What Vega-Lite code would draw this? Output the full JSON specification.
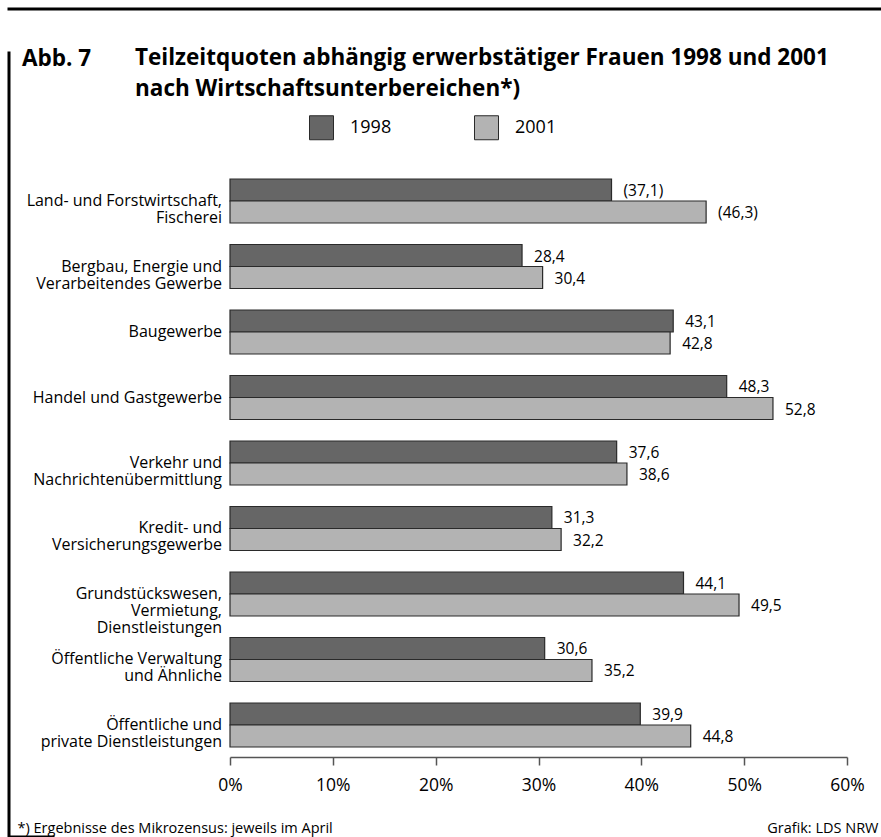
{
  "$schema": "https://vega.github.io/schema/vega-lite/v6.json",
  "width": 872,
  "height": 828,
  "autosize": {"type": "none"},
  "padding": {"left": 9, "top": 9, "right": 0, "bottom": 0},
  "background": "white",
  "title": {
    "text": ["Teilzeitquoten abhängig erwerbstätiger Frauen 1998 und 2001", "nach Wirtschaftsunterbereichen*)"],
    "anchor": "start",
    "frame": "group",
    "dx": 126,
    "offset": -91,
    "baseline": "top",
    "lineHeight": 30.5,
    "font": "Open Sans",
    "fontSize": 22.5,
    "fontWeight": "bold",
    "color": "#000"
  },
  "data": {
    "values": [
      {"sector": "Land- und Forstwirtschaft,|Fischerei", "year": "1998", "value": 37.1, "label": "(37,1)"},
      {"sector": "Land- und Forstwirtschaft,|Fischerei", "year": "2001", "value": 46.3, "label": "(46,3)"},
      {"sector": "Bergbau, Energie und|Verarbeitendes Gewerbe", "year": "1998", "value": 28.4, "label": "28,4"},
      {"sector": "Bergbau, Energie und|Verarbeitendes Gewerbe", "year": "2001", "value": 30.4, "label": "30,4"},
      {"sector": "Baugewerbe", "year": "1998", "value": 43.1, "label": "43,1"},
      {"sector": "Baugewerbe", "year": "2001", "value": 42.8, "label": "42,8"},
      {"sector": "Handel und Gastgewerbe", "year": "1998", "value": 48.3, "label": "48,3"},
      {"sector": "Handel und Gastgewerbe", "year": "2001", "value": 52.8, "label": "52,8"},
      {"sector": "Verkehr und|Nachrichtenübermittlung", "year": "1998", "value": 37.6, "label": "37,6"},
      {"sector": "Verkehr und|Nachrichtenübermittlung", "year": "2001", "value": 38.6, "label": "38,6"},
      {"sector": "Kredit- und|Versicherungsgewerbe", "year": "1998", "value": 31.3, "label": "31,3"},
      {"sector": "Kredit- und|Versicherungsgewerbe", "year": "2001", "value": 32.2, "label": "32,2"},
      {"sector": "Grundstückswesen,|Vermietung,|Dienstleistungen", "year": "1998", "value": 44.1, "label": "44,1"},
      {"sector": "Grundstückswesen,|Vermietung,|Dienstleistungen", "year": "2001", "value": 49.5, "label": "49,5"},
      {"sector": "Öffentliche Verwaltung|und Ähnliche", "year": "1998", "value": 30.6, "label": "30,6"},
      {"sector": "Öffentliche Verwaltung|und Ähnliche", "year": "2001", "value": 35.2, "label": "35,2"},
      {"sector": "Öffentliche und|private Dienstleistungen", "year": "1998", "value": 39.9, "label": "39,9"},
      {"sector": "Öffentliche und|private Dienstleistungen", "year": "2001", "value": 44.8, "label": "44,8"}
    ]
  },
  "encoding": {
    "y": {
      "field": "sector",
      "type": "nominal",
      "sort": null,
      "scale": {"range": [170, 738], "paddingInner": 0.328, "paddingOuter": 0},
      "axis": {
        "orient": "left",
        "offset": -212.5,
        "domain": false,
        "ticks": false,
        "tickSize": 0,
        "grid": false,
        "labelPadding": 0,
        "labelFont": "Open Sans",
        "labelFontSize": 16,
        "labelLineHeight": 17,
        "labelColor": "#000",
        "labelLimit": 400,
        "labelExpr": "split(datum.label, '|')",
        "title": "Abb. 7",
        "titleAngle": 0,
        "titleX": -200,
        "titleY": 56,
        "titleAlign": "left",
        "titleBaseline": "alphabetic",
        "titleFont": "Open Sans",
        "titleFontSize": 22.5,
        "titleFontWeight": "bold",
        "titleColor": "#000"
      }
    },
    "yOffset": {"field": "year", "type": "nominal", "sort": ["1998", "2001"]}
  },
  "layer": [
    {
      "mark": {"type": "bar", "stroke": "#2a2a2a", "strokeWidth": 1.2},
      "encoding": {
        "x": {
          "field": "value",
          "type": "quantitative",
          "scale": {"domain": [0, 60], "range": [221, 838], "nice": false, "zero": true},
          "axis": {
            "orient": "bottom",
            "offset": -80,
            "values": [0, 10, 20, 30, 40, 50, 60],
            "labelExpr": "datum.value + '%'",
            "grid": false,
            "tickSize": 8,
            "tickColor": "#555",
            "tickWidth": 1.5,
            "domainColor": "#555",
            "domainWidth": 1.5,
            "labelPadding": 11,
            "labelFont": "Open Sans",
            "labelFontSize": 17.5,
            "labelColor": "#000",
            "labelFlush": false,
            "labelOverlap": false,
            "title": "*) Ergebnisse des Mikrozensus: jeweils im April",
            "titleX": 8,
            "titleY": 71,
            "titleAlign": "left",
            "titleAnchor": null,
            "titleBaseline": "middle",
            "titleFont": "Open Sans",
            "titleFontSize": 14.5,
            "titleFontWeight": "normal",
            "titleColor": "#000"
          }
        },
        "color": {
          "field": "year",
          "type": "nominal",
          "scale": {"domain": ["1998", "2001"], "range": ["#666666", "#b3b3b3"]},
          "legend": {
            "orient": "none",
            "legendX": 300,
            "legendY": 106,
            "direction": "horizontal",
            "title": null,
            "padding": 0,
            "symbolType": "square",
            "symbolSize": 576,
            "symbolStrokeColor": "#2a2a2a",
            "symbolStrokeWidth": 1,
            "symbolOpacity": 1,
            "labelFont": "Open Sans",
            "labelFontSize": 18,
            "labelColor": "#000",
            "labelOffset": 16,
            "columnPadding": 80
          }
        }
      }
    },
    {
      "mark": {"type": "text", "align": "left", "baseline": "middle", "dx": 12, "dy": 1, "font": "Open Sans", "fontSize": 15.5, "color": "#000"},
      "encoding": {
        "x": {
          "field": "value",
          "type": "quantitative",
          "scale": {"domain": [0, 60], "range": [221, 838], "nice": false, "zero": true},
          "axis": {
            "orient": "top",
            "labels": false,
            "ticks": false,
            "domain": false,
            "grid": false,
            "title": "Grafik: LDS NRW",
            "titleX": 869,
            "titleY": 819,
            "titleAlign": "right",
            "titleAnchor": null,
            "titleBaseline": "middle",
            "titleFont": "Open Sans",
            "titleFontSize": 14.5,
            "titleFontWeight": "normal",
            "titleColor": "#000"
          }
        },
        "text": {"field": "label", "type": "nominal"}
      }
    }
  ],
  "resolve": {"scale": {"x": "shared"}, "axis": {"x": "independent"}},
  "config": {
    "font": "Open Sans",
    "view": {"stroke": "#000", "strokeWidth": 3, "strokeDash": [872, 1656, 828], "strokeCap": "square"},
    "axis": {"grid": false}
  }
}
